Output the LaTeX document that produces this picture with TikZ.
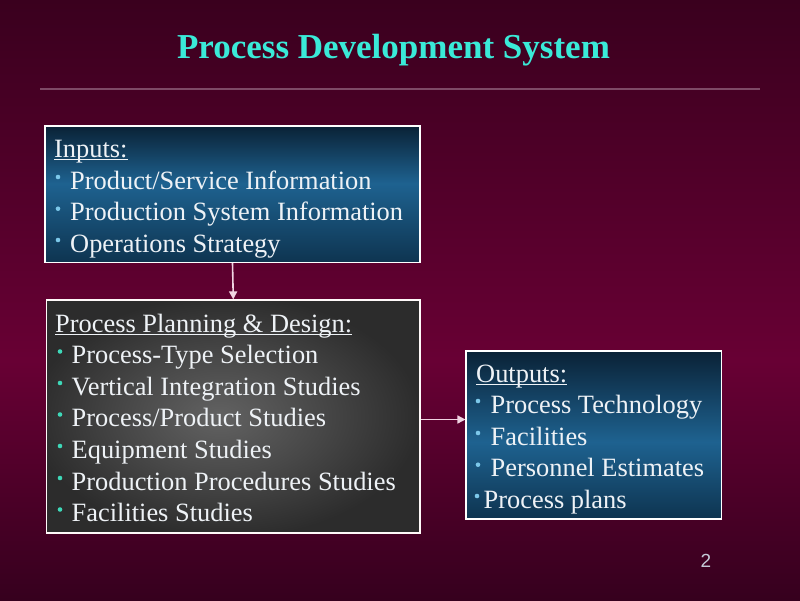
\documentclass[tikz,border=0pt]{standalone}
\usepackage{fontspec}
\setmainfont{Liberation Serif}
\newfontfamily\numfont{Liberation Sans}
\usetikzlibrary{arrows.meta}
\definecolor{bgtop}{HTML}{3A001E}
\definecolor{bgmid}{HTML}{680034}
\definecolor{bgbot}{HTML}{36001E}
\definecolor{titlec}{HTML}{3AEAD8}
\definecolor{rulec}{HTML}{7E4A66}
\definecolor{bluetop}{HTML}{0A2236}
\definecolor{bluemid}{HTML}{1E6290}
\definecolor{bluebot}{HTML}{0E3450}
\definecolor{grayin}{HTML}{626262}
\definecolor{graymid}{HTML}{484848}
\definecolor{grayout}{HTML}{2C2C2C}
\definecolor{bulblue}{HTML}{7CC8EA}
\definecolor{bulteal}{HTML}{3ED8B8}
\definecolor{txtc}{HTML}{EEF2F6}
\definecolor{arrc}{HTML}{F0D4E2}
\definecolor{numc}{HTML}{C4CAD8}
\pgfdeclareverticalshading{bgv}{100bp}{color(0bp)=(bgbot); color(25bp)=(bgbot); color(45bp)=(bgmid); color(75bp)=(bgtop); color(100bp)=(bgtop)}
\pgfdeclareverticalshading{bluev}{100bp}{color(0bp)=(bluebot); color(25bp)=(bluebot); color(54bp)=(bluemid); color(75bp)=(bluetop); color(100bp)=(bluetop)}
\pgfdeclareverticalshading{bluevb}{100bp}{color(0bp)=(bluebot); color(25bp)=(bluebot); color(48bp)=(bluemid); color(75bp)=(bluetop); color(100bp)=(bluetop)}
\pgfdeclareradialshading{grayglow}{\pgfpoint{-2bp}{0bp}}{color(0bp)=(grayin); color(13bp)=(graymid); color(26bp)=(grayout); color(50bp)=(grayout)}
\newcommand\ulhead[1]{{\setbox0\hbox{#1}\rlap{\vrule width\wd0 height -2.0pt depth 3.3pt}\box0}}
\begin{document}
\begin{tikzpicture}[x=1pt,y=-1pt,
  boxline/.style={draw=white, line width=1.2pt, inner sep=0},
  bluebox/.style={boxline, shading=bluev},
  bluebox2/.style={boxline, shading=bluevb},
  graybox/.style={boxline, draw=white!90!pink, shading=grayglow},
  txt/.style={anchor=base west, inner sep=0, text=txtc, font=\fontsize{26.4}{31}\selectfont},
  arr/.style={draw=arrc, line width=1.6pt, -{Triangle[length=8pt,width=8pt]}},
  title/.style={anchor=base, inner sep=0, text=titlec, font=\fontsize{35}{40}\selectfont\bfseries}
]
\useasboundingbox (0,0) rectangle (800,600);
\shade[shading=bgv] (0,0) rectangle (800,600);

% title and rule
\node[title] (ttl) at (393.5,58) {Process Development System};
\coordinate (rl) at (40,89);
\coordinate (rr) at (760,89);
\draw[rulec, line width=2pt] (rl) -- (rr);

% boxes
\node[bluebox, minimum width=375, minimum height=136.5] (in) at (232.5,194.3) {};
\node[graybox, minimum width=373.5, minimum height=233] (pd) at (233.3,416.5) {};
\node[bluebox2, minimum width=255.5, minimum height=168] (out) at (593.8,435) {};

% inputs text
\node[txt] (inh) at (54,157) {\ulhead{Inputs:}};
\node[txt] (in1) at (70,189) {Product/Service Information};
\node[txt] (in2) at (70,220.7) {Production System Information};
\node[txt] (in3) at (70,252) {Operations Strategy};
\foreach \n in {in1,in2,in3}
  \fill[bulblue] ([shift={(-12,-12)}]\n.base west) circle (2.3);

% process planning text
\node[txt] (pdh) at (55,332) {\ulhead{Process Planning \& Design:}};
\node[txt] (pd1) at (71.5,363.5) {Process-Type Selection};
\node[txt] (pd2) at (71.5,395) {Vertical Integration Studies};
\node[txt] (pd3) at (71.5,426.5) {Process/Product Studies};
\node[txt] (pd4) at (71.5,458) {Equipment Studies};
\node[txt] (pd5) at (71.5,490) {Production Procedures Studies};
\node[txt] (pd6) at (71.5,521.5) {Facilities Studies};
\foreach \n in {pd1,pd2,pd3,pd4,pd5,pd6}
  \fill[bulteal] ([shift={(-11.5,-12)}]\n.base west) circle (2.3);

% outputs text
\node[txt] (outh) at (476,382) {\ulhead{Outputs:}};
\node[txt] (out1) at (490.5,413) {Process Technology};
\node[txt] (out2) at (490.5,445) {Facilities};
\node[txt] (out3) at (490.5,476.7) {Personnel Estimates};
\node[txt] (out4) at (483.5,508) {Process plans};
\foreach \n in {out1,out2,out3}
  \fill[bulblue] ([shift={(-12.5,-12)}]\n.base west) circle (2.3);
\fill[bulblue] ([shift={(-6.5,-12)}]out4.base west) circle (2.3);

% connectors
\draw[arr] (in.south) -- (pd.north);
\draw[arr] ([yshift=-3pt]pd.east) -- ([yshift=-3pt]out.west |- pd.east);

% page number
\node[anchor=base, inner sep=0, text=numc, font=\numfont\fontsize{19}{22}\selectfont] (pg) at (706,567) {2};
\end{tikzpicture}
\end{document}
